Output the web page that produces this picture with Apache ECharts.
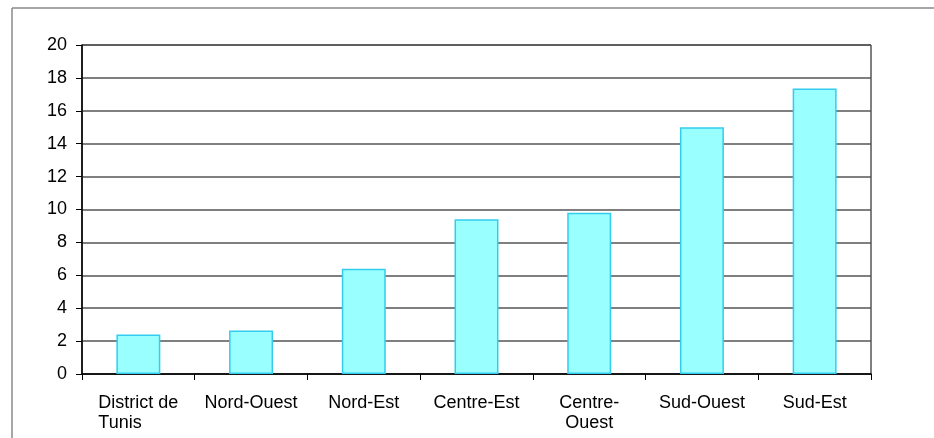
<!DOCTYPE html>
<html>
<head>
<meta charset="utf-8">
<script src="https://cdn.jsdelivr.net/npm/echarts@6/dist/echarts.min.js"></script>
<style>html,body{margin:0;padding:0;background:#fff}#c{width:934px;height:438px}</style>
</head>
<body>
<div id="c"></div>
<script>
const categories = ['District de\nTunis', 'Nord-Ouest', 'Nord-Est', 'Centre-Est', 'Centre-\nOuest', 'Sud-Ouest', 'Sud-Est'];
const values = [2.4, 2.65, 6.4, 9.4, 9.8, 15.0, 17.35];
const yTicks = {min: 0, max: 20, interval: 2};

const chart = echarts.init(document.getElementById('c'), null, {renderer: 'canvas'});
chart.setOption({
  animation: false,
  backgroundColor: '#fff',
  graphic: [
    {type: 'line', shape: {x1: 12, y1: 8, x2: 934, y2: 8}, style: {stroke: '#888', lineWidth: 1.5}},
    {type: 'line', shape: {x1: 12, y1: 8, x2: 12, y2: 438}, style: {stroke: '#888', lineWidth: 1.5}}
  ],
  grid: {left: 82, right: 63, top: 45, bottom: 64, show: true, borderColor: '#000', borderWidth: 1},
  xAxis: {
    type: 'category',
    data: categories,
    axisLine: {lineStyle: {color: '#000', width: 1.5}},
    axisTick: {show: true, length: 6, lineStyle: {color: '#000'}},
    axisLabel: {
      color: '#000', fontSize: 18, fontFamily: 'Liberation Sans, Arial, sans-serif', margin: 19, lineHeight: 20, interval: 0,
      formatter: function (v, i) {
        if (i === 0) {
          return v.split('\n').map(function (s) { return '{l|' + s + '}'; }).join('\n');
        }
        return v;
      },
      rich: {
        l: {width: 80, align: 'left', fontSize: 18, lineHeight: 20, color: '#000', fontFamily: 'Liberation Sans, Arial, sans-serif'}
      }
    }
  },
  yAxis: {
    type: 'value',
    min: yTicks.min, max: yTicks.max, interval: yTicks.interval,
    axisLine: {show: true, lineStyle: {color: '#000', width: 1.5}},
    axisTick: {show: true, length: 6, lineStyle: {color: '#000'}},
    axisLabel: {color: '#000', fontSize: 18, fontFamily: 'Liberation Sans, Arial, sans-serif', margin: 15},
    splitLine: {show: true, lineStyle: {color: '#555', width: 1.5}}
  },
  series: [{
    type: 'bar',
    data: values,
    barWidth: '39%',
    itemStyle: {color: '#99FFFF', borderColor: '#33CCEE', borderWidth: 1.5}
  }]
});
</script>
</body>
</html>
